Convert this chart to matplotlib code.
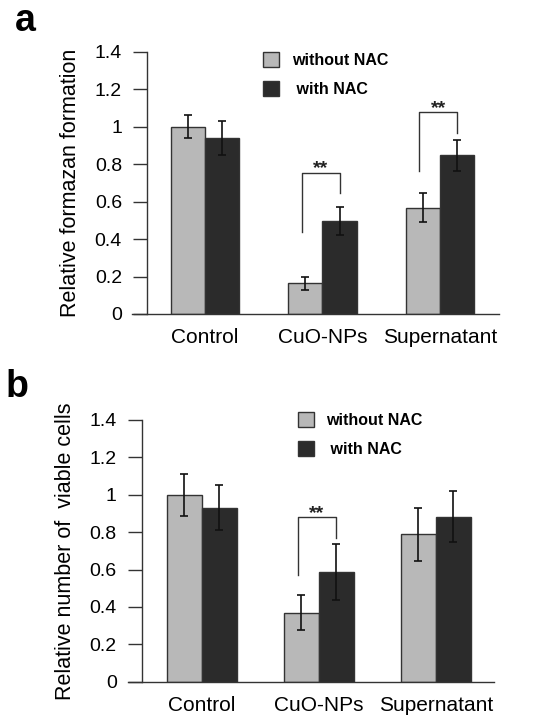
import numpy as np
import matplotlib
matplotlib.use("Agg")
import matplotlib.pyplot as plt

plt.rcParams['font.family'] = ['Liberation Sans', 'DejaVu Sans']

groups = ["Control", "CuO-NPs", "Supernatant"]
series = ["without NAC", " with NAC"]

# panel a: relative formazan formation
a_without = [1.00, 0.165, 0.567]
a_without_err = [0.062, 0.035, 0.077]
a_with = [0.942, 0.499, 0.848]
a_with_err = [0.090, 0.075, 0.083]
# brackets: group index, left leg bottom, top, right leg bottom
a_brackets = [(1, 0.44, 0.754, 0.648), (2, 0.764, 1.078, 0.969)]

# panel b: relative number of viable cells
b_without = [0.997, 0.369, 0.788]
b_without_err = [0.112, 0.095, 0.140]
b_with = [0.931, 0.589, 0.883]
b_with_err = [0.120, 0.150, 0.135]
b_brackets = [(1, 0.571, 0.879, 0.770)]

yticks = [0, 0.2, 0.4, 0.6, 0.8, 1.0, 1.2, 1.4]
yticklabels = ["0", "0.2", "0.4", "0.6", "0.8", "1", "1.2", "1.4"]

gray = "#b8b8b8"
dark = "#2b2b2b"
edge = "#333333"

fig = plt.figure(figsize=(5.35, 7.21), dpi=100)


def panel(rect, xlim, spine_x, w, without, without_err, with_, with_err,
          brackets, ylabel, label_x, letter, letter_xy, leg_anchor):
    ax = fig.add_axes(rect)
    x = np.arange(len(groups))
    ax.bar(x - w / 2, without, w, color=gray, edgecolor=edge, linewidth=1.0,
           label=series[0], zorder=2)
    ax.bar(x + w / 2, with_, w, color=dark, edgecolor=edge, linewidth=1.0,
           label=series[1], zorder=2)
    ax.errorbar(x - w / 2, without, yerr=without_err, fmt='none', ecolor='#111111',
                elinewidth=1.2, capsize=3, capthick=1.2, zorder=3)
    ax.errorbar(x + w / 2, with_, yerr=with_err, fmt='none', ecolor='#111111',
                elinewidth=1.2, capsize=3, capthick=1.2, zorder=3)
    for g, lb, top, rb in brackets:
        xl, xr = g - w / 2 - 0.03, g + w / 2
        ax.plot([xl, xl, xr, xr], [lb, top, top, rb], color='#333333', lw=1.0,
                zorder=3, clip_on=False)
        ax.text((xl + xr) / 2, top + 0.022, "**", ha='center', va='center',
                fontsize=14, fontweight='bold', color='#222222')
    ax.set_xlim(*xlim)
    ax.set_ylim(0, 1.4)
    ax.spines['top'].set_visible(False)
    ax.spines['right'].set_visible(False)
    ax.spines['left'].set_position(('data', spine_x))
    for s in ('left', 'bottom'):
        ax.spines[s].set_color('#333333')
        ax.spines[s].set_linewidth(1.0)
    ax.set_yticks(yticks)
    ax.set_yticklabels(yticklabels, fontsize=14)
    ax.tick_params(axis='y', length=10, width=1.0, color='#333333', pad=8)
    ax.set_xticks(x)
    ax.set_xticklabels(groups, fontsize=15)
    ax.tick_params(axis='x', length=0, pad=10)
    ax.set_ylabel(ylabel, fontsize=15.5)
    ax.yaxis.set_label_coords(label_x, 0.5)
    ax.legend(loc='upper left', bbox_to_anchor=leg_anchor, frameon=False,
              borderpad=0, borderaxespad=0, handlelength=1.0, handleheight=1.1,
              handletextpad=0.8, labelspacing=0.8,
              prop={'weight': 'bold', 'size': 11.5})
    ax.text(letter_xy[0], letter_xy[1], letter, transform=ax.transAxes,
            fontsize=27, fontweight='bold', va='bottom', ha='left')
    return ax


panel([0.2467, 0.5645, 0.686, 0.3634], (-0.621, 2.502), -0.494, 0.29,
      a_without, a_without_err, a_with, a_with_err, a_brackets,
      "Relative formazan formation", -0.14, "a", (-0.318, 1.05), (0.357, 1.0))

panel([0.239, 0.0545, 0.684, 0.363], (-0.632, 2.496), -0.513, 0.30,
      b_without, b_without_err, b_with, b_with_err, b_brackets,
      "Relative number of  viable cells", -0.143, "b", (-0.335, 1.058),
      (0.464, 1.03))

fig.savefig("out.png", dpi=100)
